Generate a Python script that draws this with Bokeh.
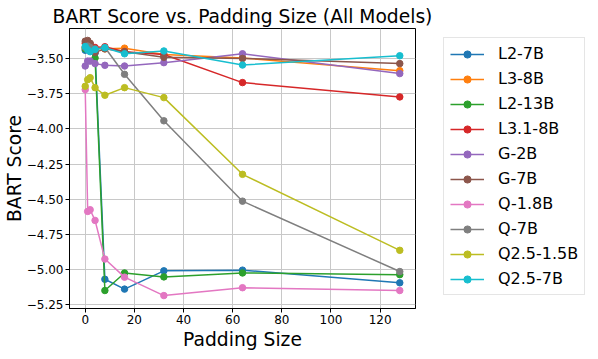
from bokeh.plotting import figure
from bokeh.models import Range1d, FixedTicker, CustomJSTickFormatter, Legend, LegendItem
from bokeh.embed import file_html
from bokeh.resources import INLINE

padding = [0, 1, 2, 4, 8, 16, 32, 64, 128]

models = ["L2-7B", "L3-8B", "L2-13B", "L3.1-8B", "G-2B", "G-7B",
          "Q-1.8B", "Q-7B", "Q2.5-1.5B", "Q2.5-7B"]

l2_7b = [-3.44, -3.43, -3.44, -3.46, -5.07, -5.14, -5.01, -5.005, -5.095]
l3_8b = [-3.42, -3.41, -3.42, -3.43, -3.43, -3.425, -3.47, -3.495, -3.585]
l2_13b = [-3.43, -3.42, -3.44, -3.495, -5.15, -5.025, -5.053, -5.025, -5.037]
l31_8b = [-3.39, -3.39, -3.395, -3.42, -3.415, -3.45, -3.47, -3.67, -3.772]
g_2b = [-3.552, -3.517, -3.517, -3.535, -3.547, -3.552, -3.528, -3.465, -3.606]
g_7b = [-3.375, -3.37, -3.39, -3.455, -3.43, -3.45, -3.49, -3.498, -3.535]
q_18b = [-3.72, -4.587, -4.575, -4.651, -4.926, -5.055, -5.186, -5.13, -5.15]
q_7b = [-3.42, -3.41, -3.42, -3.43, -3.42, -3.611, -3.942, -4.514, -5.015]
q25_15b = [-3.696, -3.649, -3.635, -3.706, -3.76, -3.706, -3.777, -4.323, -4.864]
q25_7b = [-3.413, -3.436, -3.45, -3.434, -3.422, -3.465, -3.445, -3.545, -3.479]

series = [l2_7b, l3_8b, l2_13b, l31_8b, g_2b, g_7b, q_18b, q_7b, q25_15b, q25_7b]
colors = ["#1f77b4", "#ff7f0e", "#2ca02c", "#d62728", "#9467bd",
          "#8c564b", "#e377c2", "#7f7f7f", "#bcbd22", "#17becf"]

x_ticks = [0, 20, 40, 60, 80, 100, 120]
y_ticks = [-5.25, -5.0, -4.75, -4.5, -4.25, -4.0, -3.75, -3.5]

FONT = "DejaVu Sans"

p = figure(frame_width=346, frame_height=280,
           min_border_left=64, min_border_top=28, min_border_right=172, min_border_bottom=35,
           x_range=Range1d(-6.4, 134.4), y_range=Range1d(-5.278, -3.285),
           output_backend="svg", toolbar_location=None,
           title="BART Score vs. Padding Size (All Models)")

p.title.text_font = FONT
p.title.text_font_size = "18.7px"
p.title.text_font_style = "normal"
p.title.text_color = "black"
p.title.align = "center"
p.title.standoff = 4

p.outline_line_color = "black"
p.outline_line_alpha = 1.0
p.outline_line_width = 1

for ax in (p.xaxis[0], p.yaxis[0]):
    ax.axis_line_color = "black"
    ax.major_tick_line_color = "black"
    ax.major_tick_in = 0
    ax.major_tick_out = 4
    ax.minor_tick_line_color = None
    ax.major_label_text_font = FONT
    ax.major_label_text_font_size = "12px"
    ax.major_label_text_color = "black"
    ax.axis_label_text_font = FONT
    ax.axis_label_text_font_size = "18.7px"
    ax.axis_label_text_font_style = "normal"
    ax.axis_label_text_color = "black"
    ax.major_label_standoff = 2

p.xaxis.ticker = FixedTicker(ticks=x_ticks)
p.yaxis.ticker = FixedTicker(ticks=y_ticks)
p.yaxis.formatter = CustomJSTickFormatter(code="return (tick < 0 ? '\u2212' : '') + Math.abs(tick).toFixed(2);")
p.xaxis.axis_label = "Padding Size"
p.yaxis.axis_label = "BART Score"
p.xaxis.axis_label_standoff = 2
p.yaxis.axis_label_standoff = -1

p.xgrid.grid_line_color = "#c8c8c8"
p.ygrid.grid_line_color = "#c8c8c8"
p.xgrid.grid_line_width = 1
p.ygrid.grid_line_width = 1

items = []
for name, vals, c in zip(models, series, colors):
    r1 = p.line(padding, vals, line_color=c, line_width=1.5)
    r2 = p.scatter(padding, vals, marker="circle", size=6.5, fill_color=c, line_color=c)
    items.append(LegendItem(label=name, renderers=[r1, r2]))

legend = Legend(items=items, location=(28, 13))
legend.label_text_font = FONT
legend.label_text_font_size = "16px"
legend.label_text_color = "black"
legend.glyph_width = 34
legend.glyph_height = 18
legend.label_height = 18
legend.spacing = 6
legend.padding = 6
legend.label_standoff = 14
legend.border_line_color = "#cccccc"
legend.border_line_width = 1
legend.background_fill_alpha = 1.0
legend.margin = 0
p.add_layout(legend, "right")

open("out.html", "w").write(file_html(p, INLINE))
